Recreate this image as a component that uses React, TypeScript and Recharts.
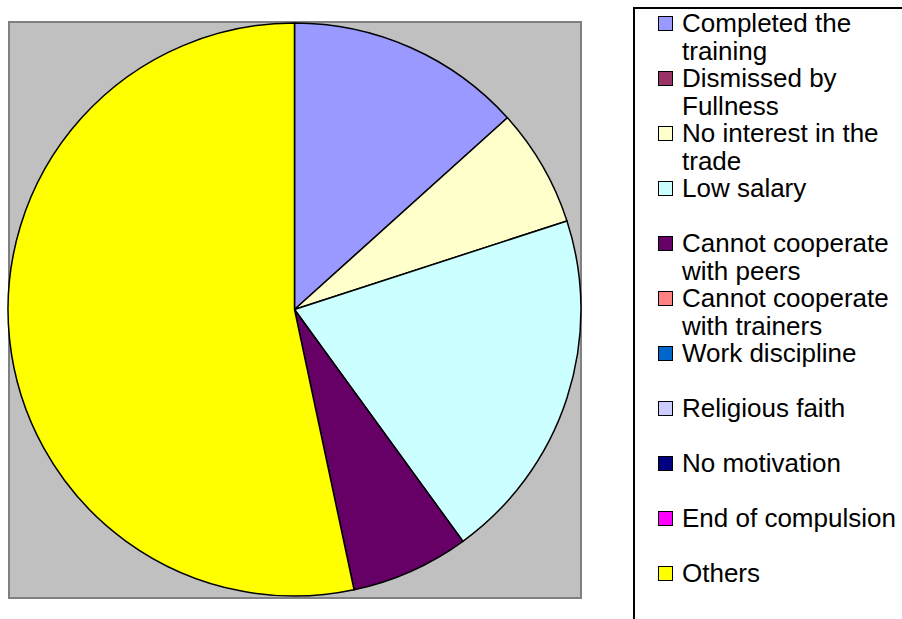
import { PieChart, Pie, Cell, Legend } from 'recharts'

const REASONS = [
  'Completed the training',
  'Dismissed by Fullness',
  'No interest in the trade',
  'Low salary',
  'Cannot cooperate with peers',
  'Cannot cooperate with trainers',
  'Work discipline',
  'Religious faith',
  'No motivation',
  'End of compulsion',
  'Others'
]

const COUNTS = [2, 0, 1, 3, 1, 0, 0, 0, 0, 0, 8]

const COLORS = [
  '#9999FF',
  '#993366',
  '#FFFFCC',
  '#CCFFFF',
  '#660066',
  '#FF8080',
  '#0066CC',
  '#CCCCFF',
  '#000080',
  '#FF00FF',
  '#FFFF00'
]

const data = REASONS.map((name, i) => ({ name, value: COUNTS[i], color: COLORS[i] }))

const FONT = '"Liberation Sans", Arial, sans-serif'

function ReasonLegend() {
  return (
    <div style={{ paddingTop: 1, fontFamily: FONT, fontSize: 26, color: '#000' }}>
      {data.map((d) => (
        <div key={d.name} style={{ height: 55, display: 'flex', alignItems: 'flex-start' }}>
          <span
            style={{
              display: 'inline-block',
              width: 15,
              height: 15,
              marginLeft: 23,
              marginTop: 6,
              boxSizing: 'border-box',
              border: '1.5px solid #000',
              background: d.color,
              flexShrink: 0
            }}
          />
          <span style={{ marginLeft: 9, width: 220, lineHeight: '27.5px' }}>{d.name}</span>
        </div>
      ))}
    </div>
  )
}

export default function App() {
  return (
    <div
      style={{
        position: 'absolute',
        left: 0,
        top: 0,
        width: 902,
        height: 619,
        overflow: 'hidden',
        background: '#fff'
      }}
    >
      {/* plot area */}
      <div
        style={{
          position: 'absolute',
          left: 8,
          top: 21,
          width: 574,
          height: 578,
          boxSizing: 'border-box',
          background: '#C0C0C0',
          border: '2px solid #808080'
        }}
      />
      <div style={{ position: 'absolute', left: 0, top: 0 }}>
        <PieChart width={902} height={619} margin={{ top: 0, right: 0, bottom: 0, left: 0 }}>
          <Pie
            data={data}
            dataKey="value"
            nameKey="name"
            cx={294.5}
            cy={309.5}
            outerRadius={286.5}
            startAngle={90}
            endAngle={-270}
            stroke="#000"
            strokeWidth={1.5}
            isAnimationActive={false}
          >
            {data.map((entry, index) => (
              <Cell key={`cell-${index}`} fill={entry.color} />
            ))}
          </Pie>
          <Legend
            content={() => <ReasonLegend />}
            wrapperStyle={{
              position: 'absolute',
              left: 633,
              top: 7,
              width: 320,
              height: 660,
              boxSizing: 'border-box',
              border: '2px solid #000',
              background: '#fff'
            }}
          />
        </PieChart>
      </div>
    </div>
  )
}
